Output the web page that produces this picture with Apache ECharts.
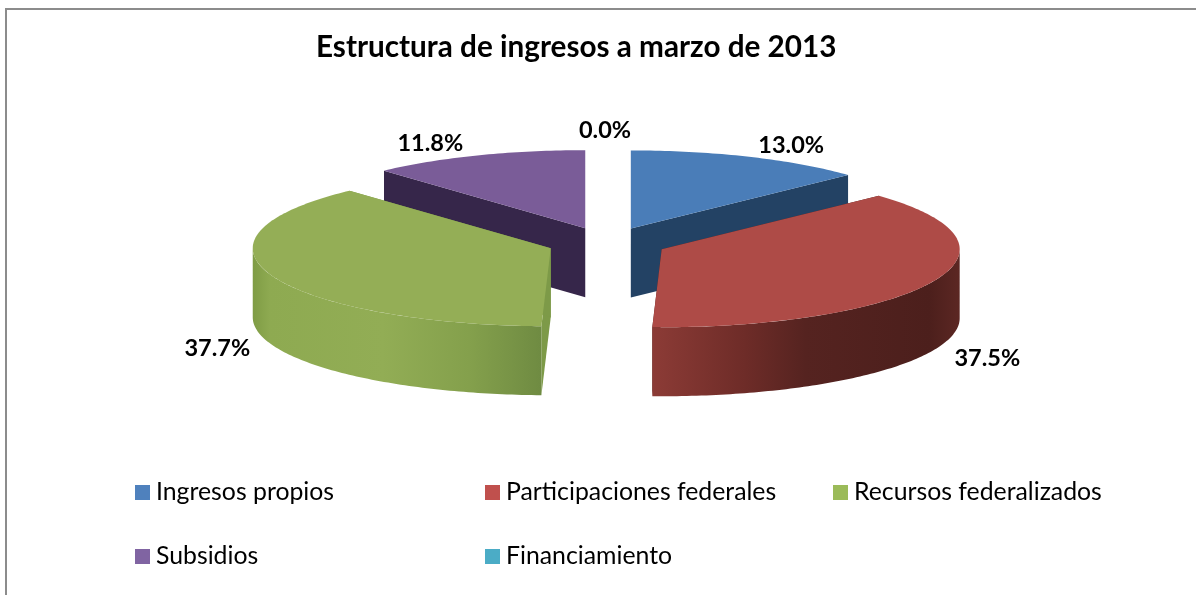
<!DOCTYPE html>
<html>
<head>
<meta charset="utf-8">
<style>
  html, body { margin: 0; padding: 0; background: #fff; }
  #chart { width: 1196px; height: 595px; }
</style>
<script src="https://cdn.jsdelivr.net/npm/echarts@6/dist/echarts.min.js"></script>
</head>
<body>
<div id="chart"></div>
<script>
const categories = ['Ingresos propios', 'Participaciones federales', 'Recursos federalizados', 'Subsidios', 'Financiamiento'];
const values = [13.0, 37.5, 37.7, 11.8, 0.0];

const topColors = ['#4a7db8', '#ae4b47', '#94ae56', '#7a5c98', '#4bacc6'];
const legendColors = ['#4f81bd', '#c0504d', '#9bbb59', '#8064a2', '#4bacc6'];
const faceColors = ['#234264', '#4e201d', '#7d9a48', '#36264a', '#2f7f95'];
const wallStops = [
  [],
  [[0, '#8c3b36'], [0.3, '#6e2c28'], [0.5, '#552320'], [0.9, '#4c1f1c'], [1, '#5c2723']],
  [[0, '#7f9c45'], [0.06, '#8eaa51'], [0.45, '#92ad55'], [0.75, '#84a04c'], [1, '#6f8b42']],
  [],
  []
];
const labelShift = [[42, -11], [54, 77], [-54, 73], [-47, -12], [-2, -19]];

const legendLeft = [135, 485, 833, 135, 485];
const legendTop = [480, 480, 480, 544, 544];

// pie geometry, all slices come from these and the values
const cx = 607, cy = 242.8, rx = 298, ry = 78, depth = 69;
const explodeX = 60, explodeY = 15.7;
const total = values.reduce((a, b) => a + b, 0);

const toAngle = (v) => (v / total) * Math.PI * 2;
const starts = values.map((_, i) => toAngle(values.slice(0, i).reduce((a, b) => a + b, 0)));

function rim(apex, a) {
  return [apex[0] + rx * Math.sin(a), apex[1] - ry * Math.cos(a)];
}
function arc(apex, from, to) {
  const pts = [];
  const n = Math.max(2, Math.ceil((to - from) * 60));
  for (let k = 0; k <= n; k++) {
    pts.push(rim(apex, from + (to - from) * k / n));
  }
  return pts;
}
const down = (p) => [p[0], p[1] + depth];

function renderSlice(params, api) {
  const i = params.seriesIndex;
  const from = starts[i];
  const to = from + toAngle(api.value(0));
  const mid = (from + to) / 2;
  const apex = [cx + explodeX * Math.sin(mid), cy - explodeY * Math.cos(mid)];
  const children = [];

  if (to > from) {
    // cut faces first, then the outer wall, the top goes over them
    [from, to].forEach((a) => {
      const r = rim(apex, a);
      children.push({
        type: 'polygon',
        shape: { points: [apex, r, down(r), down(apex)] },
        style: { fill: faceColors[i] }
      });
    });
    const wallFrom = Math.max(from, Math.PI / 2);
    const wallTo = Math.min(to, Math.PI * 1.5);
    if (wallTo > wallFrom) {
      const edge = arc(apex, wallFrom, wallTo);
      const stops = wallStops[i].map((s) => ({ offset: s[0], color: s[1] }));
      children.push({
        type: 'polygon',
        shape: { points: edge.concat(edge.map(down).reverse()) },
        style: {
          fill: {
            type: 'linear',
            x: 0, y: 0, x2: 1, y2: 0,
            colorStops: stops
          }
        }
      });
    }
    children.push({
      type: 'polygon',
      shape: { points: [apex].concat(arc(apex, from, to)) },
      style: { fill: topColors[i] }
    });
  }

  const anchor = rim(apex, mid);
  children.push({
    type: 'text',
    z2: 10,
    x: anchor[0] + labelShift[i][0],
    y: anchor[1] + labelShift[i][1],
    style: {
      text: values[i].toFixed(1) + '%',
      fill: '#000',
      font: 'bold 23.5px Lato',
      align: 'center',
      verticalAlign: 'middle'
    }
  });
  return { type: 'group', children };
}

const myChart = echarts.init(document.getElementById('chart'));
const option = {
  animation: false,
  backgroundColor: '#fff',
  title: {
    text: 'Estructura de ingresos a marzo de 2013',
    left: 316,
    top: 32,
    padding: 0,
    textStyle: { fontFamily: 'Lato', fontWeight: 'bold', fontSize: 29.7, color: '#000' }
  },
  legend: categories.map((name, i) => ({
    data: [name],
    left: legendLeft[i],
    top: legendTop[i],
    padding: 0,
    icon: 'rect',
    itemWidth: 15,
    itemHeight: 15,
    itemGap: 0,
    selectedMode: false,
    textStyle: { fontFamily: 'Lato', fontSize: 24.8, color: '#000', padding: [0, 0, 0, 1] }
  })),
  graphic: [{
    type: 'polyline',
    silent: true,
    shape: { points: [[6, 595], [6, 9], [1196, 9]] },
    style: { fill: null, stroke: '#8c8c8c', lineWidth: 2 }
  }],
  series: categories.map((name, i) => ({
    name,
    type: 'custom',
    coordinateSystem: 'none',
    silent: true,
    z: Math.round(3 - 3 * Math.cos(starts[i] + toAngle(values[i]) / 2)),
    itemStyle: { color: legendColors[i] },
    renderItem: renderSlice,
    data: [[values[i]]]
  }))
};
myChart.setOption(option);
</script>
</body>
</html>
